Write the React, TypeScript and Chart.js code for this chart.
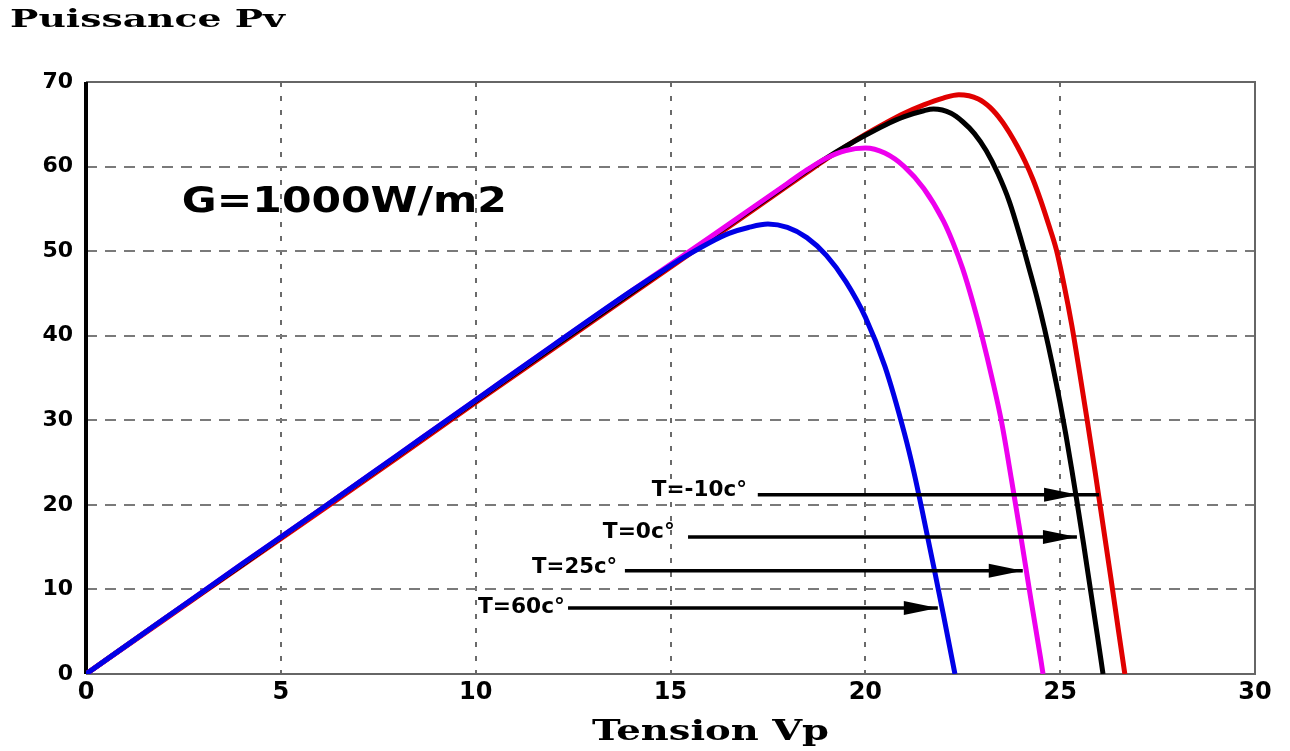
import { useEffect, useRef } from "react";
import { Chart, registerables } from "chart.js";

Chart.register(...registerables);

// ---- tick values ----
const xTickValues = [0, 5, 10, 15, 20, 25, 30];
const yTickValues = [0, 10, 20, 30, 40, 50, 60, 70];

// ---- series: T = 60 c° (blue) ----
const v60 = [0, 2, 4, 6, 8, 10, 12, 14, 15, 15.5, 16, 16.5, 17, 17.5, 18, 18.5, 19, 19.5, 20, 20.5, 21, 21.25, 21.5, 21.75, 22.0, 22.3];
const p60 = [0, 6.5, 13.0, 19.4, 25.9, 32.4, 38.9, 45.3, 48.3, 49.7, 51.0, 52.1, 52.8, 53.2, 52.8, 51.6, 49.5, 46.4, 42.2, 36.4, 28.5, 23.8, 18.4, 12.8, 7.1, 0];

// ---- series: T = 25 c° (magenta) ----
const v25 = [0, 2, 4, 6, 8, 10, 12, 14, 16, 17, 18, 18.5, 19, 19.5, 20, 20.5, 21, 21.5, 22, 22.25, 22.5, 22.75, 23.0, 23.25, 23.5, 23.75, 24.0, 24.25, 24.5, 24.56];
const p25 = [0, 6.5, 13.0, 19.4, 25.9, 32.4, 38.9, 45.3, 51.6, 54.8, 58.0, 59.6, 61.0, 61.9, 62.2, 61.6, 60.0, 57.4, 53.6, 51.0, 47.9, 44.1, 39.8, 35.0, 29.7, 23.0, 16.0, 8.8, 1.8, 0];

// ---- series: T = 0 c° (black) ----
const v0 = [0, 2, 4, 6, 8, 10, 12, 14, 16, 18, 18.5, 19, 19.5, 20, 20.5, 21, 21.5, 21.75, 22.2, 22.5, 22.8, 23.1, 23.4, 23.7, 24.0, 24.2, 24.4, 24.6, 24.8, 25.0, 25.15, 25.3, 25.43, 25.6, 25.76, 25.95, 26.1];
const p0 = [0, 6.5, 12.9, 19.4, 25.8, 32.3, 38.7, 45.1, 51.5, 57.9, 59.5, 61.0, 62.4, 63.7, 64.9, 65.9, 66.6, 66.8, 66.3, 65.3, 63.9, 61.9, 59.2, 55.8, 51.3, 48.0, 44.6, 40.8, 36.6, 32.0, 28.2, 24.1, 20.4, 15.4, 10.5, 4.7, 0];

// ---- series: T = -10 c° (red) ----
const vm10 = [0, 2, 4, 6, 8, 10, 12, 14, 16, 18, 18.5, 19, 19.5, 20, 20.5, 21, 21.5, 22, 22.4, 22.9, 23.2, 23.5, 23.7, 23.9, 24.1, 24.3, 24.5, 24.7, 24.9, 25.1, 25.3, 25.5, 25.7, 25.9, 26.1, 26.3, 26.5, 26.66];
const pm10 = [0, 6.4, 12.8, 19.2, 25.6, 32.1, 38.5, 44.9, 51.3, 57.7, 59.3, 60.9, 62.4, 63.8, 65.1, 66.3, 67.3, 68.1, 68.5, 68.0, 67.0, 65.4, 64.0, 62.4, 60.6, 58.5, 56.0, 53.2, 50.2, 46.0, 41.2, 35.6, 29.8, 23.8, 17.6, 11.4, 5.0, 0];

const seriesLabels = ["T=60c°", "T=25c°", "T=0c°", "T=-10c°"];

// ---- annotation texts ----
const chartTitle = "Puissance Pv";
const xTitle = "Tension Vp";
const irradianceLabel = "G=1000W/m2";

// arrow annotations (in data units): label, label right edge V, label P, line start V, tip V, line end V, P
const arrows = [
  { text: "T=-10c°", labelV: 16.96, labelP: 21.7, startV: 17.24, tipV: 25.46, endV: 26.0, p: 21.2, width: 95 },
  { text: "T=0c°", labelV: 15.11, labelP: 16.7, startV: 15.45, tipV: 25.43, endV: 25.43, p: 16.2, width: 72 },
  { text: "T=25c°", labelV: 13.63, labelP: 12.6, startV: 13.83, tipV: 24.04, endV: 24.04, p: 12.2, width: 85 },
  { text: "T=60c°", labelV: 12.29, labelP: 7.9, startV: 12.37, tipV: 21.86, endV: 21.86, p: 7.8, width: 87 },
];

function toPts(v: number[], p: number[]) {
  return v.map((x, i) => ({ x, y: p[i] }));
}

function drawStretched(
  ctx: CanvasRenderingContext2D,
  text: string,
  x: number,
  y: number,
  font: string,
  width: number,
  align: CanvasTextAlign
) {
  ctx.save();
  ctx.font = font;
  const w = ctx.measureText(text).width;
  const sx = width / w;
  ctx.translate(x, y);
  ctx.scale(sx, 1);
  ctx.textAlign = align;
  ctx.textBaseline = "middle";
  ctx.fillStyle = "#000";
  ctx.fillText(text, 0, 0);
  ctx.restore();
}

const framePlugin = {
  id: "frame",
  beforeDatasetsDraw(chart: any) {
    const { ctx, chartArea: a } = chart;
    ctx.save();
    ctx.strokeStyle = "#666";
    ctx.lineWidth = 2;
    ctx.beginPath();
    ctx.moveTo(a.left, a.top);
    ctx.lineTo(a.right, a.top);
    ctx.lineTo(a.right, a.bottom);
    ctx.lineTo(a.left, a.bottom);
    ctx.stroke();
    ctx.strokeStyle = "#000";
    ctx.lineWidth = 4;
    ctx.beginPath();
    ctx.moveTo(a.left, a.top);
    ctx.lineTo(a.left, a.bottom);
    ctx.stroke();
    ctx.restore();
  },
};

const annotationPlugin = {
  id: "annot",
  afterDatasetsDraw(chart: any) {
    const { ctx } = chart;
    const xs = chart.scales.x;
    const ys = chart.scales.y;
    arrows.forEach((ar) => {
      const y = ys.getPixelForValue(ar.p);
      const x0 = xs.getPixelForValue(ar.startV);
      const x1 = xs.getPixelForValue(ar.endV);
      const xt = xs.getPixelForValue(ar.tipV);
      ctx.save();
      ctx.strokeStyle = "#000";
      ctx.fillStyle = "#000";
      ctx.lineWidth = 3.5;
      ctx.beginPath();
      ctx.moveTo(x0, y);
      ctx.lineTo(x1, y);
      ctx.stroke();
      ctx.beginPath();
      ctx.moveTo(xt, y);
      ctx.lineTo(xt - 34, y - 7);
      ctx.lineTo(xt - 34, y + 7);
      ctx.closePath();
      ctx.fill();
      ctx.restore();
      drawStretched(
        ctx,
        ar.text,
        xs.getPixelForValue(ar.labelV),
        ys.getPixelForValue(ar.labelP),
        "bold 22px 'DejaVu Sans'",
        ar.width,
        "right"
      );
    });
    drawStretched(
      ctx,
      irradianceLabel,
      xs.getPixelForValue(2.46),
      ys.getPixelForValue(55.7),
      "bold 36px 'DejaVu Sans'",
      325,
      "left"
    );
  },
  afterDraw(chart: any) {
    const { ctx, chartArea: a } = chart;
    drawStretched(ctx, chartTitle, 10, 21, "bold 24px 'DejaVu Serif'", 275, "left");
    drawStretched(ctx, xTitle, (a.left + a.right) / 2 + 40, 733, "bold 27px 'DejaVu Serif'", 237, "center");
  },
};

export default function App() {
  const ref = useRef<HTMLCanvasElement | null>(null);

  useEffect(() => {
    if (!ref.current) return;
    const common = {
      pointRadius: 0,
      borderWidth: 5,
      fill: false,
      cubicInterpolationMode: "monotone" as const,
    };
    const chart = new Chart(ref.current, {
      type: "line",
      data: {
        datasets: [
          { label: seriesLabels[0], data: toPts(v60, p60), borderColor: "#0000e6", ...common },
          { label: seriesLabels[1], data: toPts(v25, p25), borderColor: "#ee00ee", ...common },
          { label: seriesLabels[2], data: toPts(v0, p0), borderColor: "#000000", ...common },
          { label: seriesLabels[3], data: toPts(vm10, pm10), borderColor: "#e00000", ...common },
        ],
      },
      options: {
        animation: false,
        responsive: false,
        devicePixelRatio: 1,
        layout: { padding: { left: 0, right: 35, top: 82, bottom: 0 } },
        plugins: {
          legend: { display: false },
          tooltip: { enabled: false },
          title: { display: false },
        },
        scales: {
          x: {
            type: "linear",
            min: 0,
            max: 30,
            afterBuildTicks: (s: any) => {
              s.ticks = xTickValues.map((v) => ({ value: v }));
            },
            afterFit: (s: any) => {
              s.height = 77;
            },
            ticks: {
              autoSkip: false,
              maxRotation: 0,
              padding: 4,
              color: "#000",
              font: { family: "'DejaVu Sans'", weight: "bold", size: 24 },
            },
            grid: { color: "#6a6a6a", lineWidth: 2, drawTicks: false },
            border: { display: false, dash: [5, 9] },
          },
          y: {
            type: "linear",
            min: 0,
            max: 70,
            afterBuildTicks: (s: any) => {
              s.ticks = yTickValues.map((v) => ({ value: v }));
            },
            afterFit: (s: any) => {
              s.width = 86;
            },
            ticks: {
              autoSkip: false,
              padding: 13,
              color: "#000",
              font: { family: "'DejaVu Sans'", weight: "bold", size: 22 },
            },
            grid: { color: "#7a7a7a", lineWidth: 2, drawTicks: false },
            border: { display: false, dash: [11, 8] },
          },
        },
      },
      plugins: [framePlugin, annotationPlugin],
    });
    return () => chart.destroy();
  }, []);

  return (
    <div style={{ position: "fixed", left: 0, top: 0, width: 1290, height: 751, background: "#fff" }}>
      <canvas ref={ref} width={1290} height={751} style={{ display: "block" }} />
    </div>
  );
}
